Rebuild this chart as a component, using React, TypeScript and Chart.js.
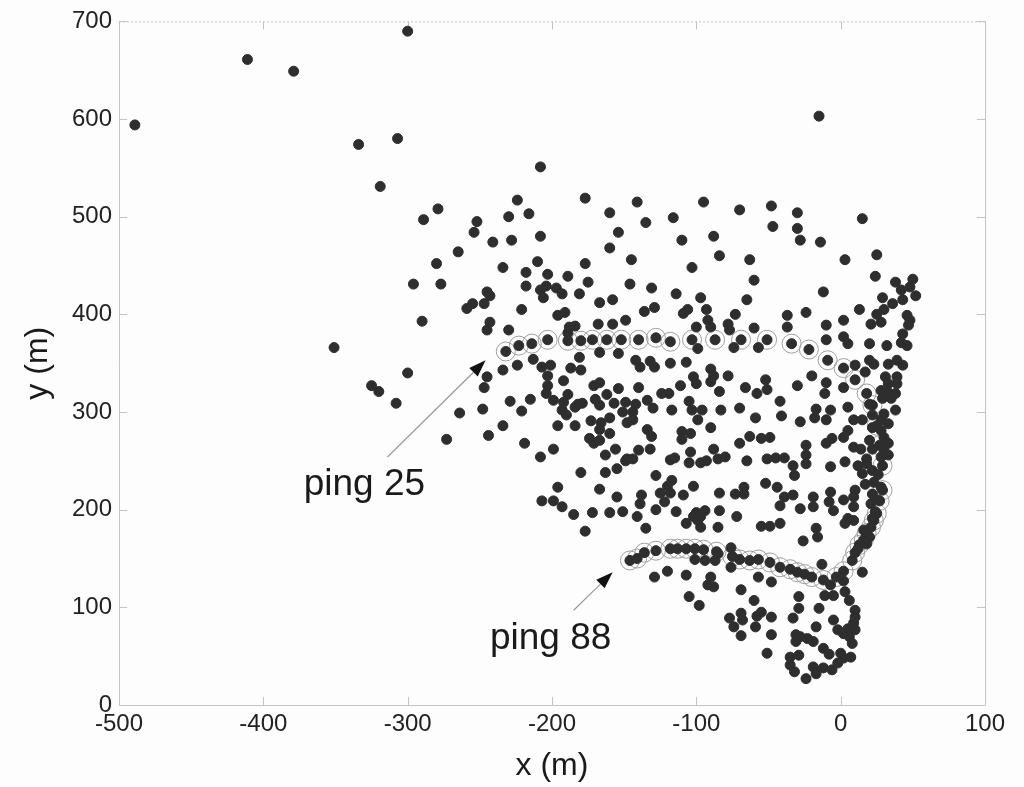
import React, { useEffect, useRef } from "react";
import { Chart, registerables } from "chart.js";

Chart.register(...registerables);

const xRange = [-500, 100];
const yRange = [0, 700];
const xLabel = "x (m)";
const yLabel = "y (m)";

// scattered target echoes [x, y] in metres
const echoes: [number, number][] = [
  // isolated points
  [-489, 594], [-411, 661], [-379, 649], [-300, 690], [-334, 574], [-307, 580], [-319, 531],
  [-289, 497], [-279, 508], [-265, 464], [-280, 452], [-296, 431], [-277, 431], [-290, 393],
  [-351, 366], [-300, 340], [-325, 327], [-320, 321], [-308, 309], [-273, 272], [-264, 299],
  [-15, 603],
  // left cluster
  [-189, 381], [-181, 356], [-167, 361], [-154, 360], [-234, 343], [-224, 348], [-213, 354],
  [-207, 346], [-201, 348], [-187, 345], [-180, 343], [-245, 336], [-247, 325], [-203, 337],
  [-192, 332], [-203, 327], [-171, 327], [-167, 330], [-154, 324], [-204, 319], [-189, 318],
  [-162, 318], [-199, 312], [-192, 310], [-182, 308], [-179, 309], [-170, 313], [-157, 309],
  [-149, 310], [-229, 311], [-215, 313], [-248, 303], [-221, 301], [-193, 302], [-190, 297],
  [-184, 305], [-167, 307], [-151, 300], [-160, 294], [-173, 291], [-166, 289], [-167, 282],
  [-196, 286], [-184, 286], [-234, 286], [-160, 278], [-174, 273], [-171, 268], [-167, 271],
  [-244, 276], [-219, 268], [-199, 262], [-208, 254], [-156, 262], [-163, 256], [-149, 250],
  [-180, 238], [-163, 238], [-155, 242], [-196, 223], [-167, 221], [-155, 213], [-207, 209],
  [-199, 209], [-193, 203], [-185, 195], [-172, 197], [-160, 197], [-151, 198],
  // upper left
  [-208, 551], [-224, 517], [-177, 519], [-141, 515], [-230, 500], [-216, 503], [-252, 495],
  [-254, 484], [-160, 504], [-154, 484], [-241, 474], [-228, 476], [-208, 480], [-160, 468],
  [-145, 456], [-210, 454], [-234, 448], [-218, 443], [-203, 441], [-189, 439], [-177, 452],
  [-175, 433], [-146, 431], [-218, 429], [-208, 425], [-204, 429], [-197, 427], [-193, 421],
  [-206, 417], [-245, 423], [-243, 419], [-255, 411], [-259, 406], [-247, 411], [-221, 405],
  [-181, 421], [-167, 412], [-158, 415], [-196, 399], [-191, 402], [-243, 392], [-245, 384],
  [-230, 384], [-168, 390], [-158, 390], [-149, 394], [-188, 387], [-184, 388],
  // upper middle
  [-95, 515], [-70, 507], [-48, 511], [-30, 504], [-135, 494], [-116, 499], [-47, 490],
  [-30, 488], [-28, 476], [-14, 474], [-110, 476], [-88, 480], [-84, 460], [-63, 456],
  [-103, 448], [-60, 435], [-131, 427], [-114, 421], [-97, 417], [-65, 415], [-12, 423],
  [-136, 403], [-129, 407], [-109, 401], [-106, 405], [-93, 405], [-92, 394], [-73, 400],
  [-37, 399], [-24, 402], [-100, 387], [-90, 387], [-78, 390], [-77, 384], [-60, 386],
  [-37, 387], [-10, 389],
  // upper right
  [15, 498], [3, 456], [25, 461], [24, 439], [38, 433], [50, 436], [42, 425], [48, 428],
  [52, 419], [43, 415], [29, 417], [36, 411], [13, 405], [30, 405], [25, 400], [2, 394],
  [21, 390], [28, 392], [46, 399], [48, 394], [47, 389], [43, 380], [2, 377],
  // centre
  [-99, 365], [-74, 366], [-57, 366], [-142, 353], [-139, 346], [-132, 352], [-129, 346],
  [-118, 350], [-107, 351], [-90, 344], [-88, 337], [-102, 336], [-78, 337], [-90, 331],
  [-100, 329], [-111, 327], [-140, 325], [-124, 319], [-119, 319], [-84, 321], [-66, 325],
  [-52, 333], [-51, 323], [-58, 319], [-30, 327], [-142, 308], [-144, 300], [-134, 312],
  [-130, 304], [-117, 302], [-105, 311], [-103, 302], [-96, 302], [-83, 302], [-70, 304],
  [-42, 311], [-41, 296], [-59, 294], [-99, 292], [-28, 290], [-144, 292], [-148, 289],
  [-134, 282], [-131, 275], [-110, 280], [-104, 278], [-110, 272], [-90, 284], [-70, 268],
  [-63, 275], [-55, 273], [-49, 274], [-24, 266], [-24, 256], [-24, 247], [-140, 261],
  [-132, 262], [-148, 252], [-144, 252], [-118, 251], [-115, 253], [-105, 248], [-97, 248],
  [-93, 250], [-104, 259], [-88, 262], [-85, 252], [-80, 254], [-65, 250], [-51, 252],
  [-45, 253], [-39, 253], [-33, 245], [-32, 235], [-128, 235], [-117, 230], [-120, 224],
  [-102, 224], [-67, 223], [-52, 227], [-44, 223], [-138, 215], [-125, 217], [-118, 217],
  [-109, 215], [-84, 217], [-73, 216], [-67, 216], [-39, 213], [-33, 215], [-139, 206],
  [-122, 208], [-128, 200], [-114, 198], [-100, 197], [-94, 199], [-84, 199], [-42, 204],
  [-28, 201], [-141, 193], [-72, 193], [-102, 193], [-97, 193],
  // right band
  [-10, 374], [5, 370], [20, 370], [32, 368], [42, 371], [46, 368], [20, 353], [23, 349],
  [33, 349], [39, 353], [43, 348], [10, 348], [17, 341], [-20, 337], [-10, 330], [-11, 319],
  [2, 325], [31, 336], [39, 336], [33, 329], [39, 329], [28, 322], [33, 320], [38, 319],
  [35, 314], [29, 314], [5, 305], [20, 308], [-17, 303], [-7, 302], [-18, 294], [-10, 292],
  [9, 292], [15, 292], [22, 297], [30, 298], [38, 302], [28, 292], [33, 288], [22, 284],
  [28, 281], [5, 281], [2, 274], [-6, 273], [-10, 268], [30, 274], [33, 268], [20, 271],
  [14, 262], [9, 264], [22, 262], [30, 261], [33, 256], [28, 254], [18, 252], [18, 247],
  [3, 249], [-7, 244], [12, 245], [15, 237], [26, 236], [22, 240], [23, 228], [17, 226],
  [28, 223], [10, 220], [-7, 218], [-19, 213], [-8, 208], [2, 210], [9, 213], [22, 216],
  [26, 210], [21, 206], [-19, 203], [-5, 199], [9, 203], [24, 198], [5, 191], [22, 191],
  // lower middle
  [-107, 186], [-99, 189], [-97, 182], [-177, 178], [-135, 181], [-101, 149], [-94, 148],
  [-129, 131], [-120, 137], [-107, 133], [-105, 111], [-98, 102], [-92, 123],
  // lower right
  [-55, 183], [-49, 183], [-42, 186], [-17, 181], [-16, 172], [-26, 168], [3, 186], [9, 189],
  [16, 179], [20, 172], [18, 165], [12, 160], [15, 136], [-85, 182], [-85, 155], [-87, 148],
  [-76, 161], [-76, 141], [-57, 131], [-48, 126], [-90, 131], [-88, 121], [-69, 118],
  [-60, 107], [-77, 89], [-69, 94], [-68, 87], [-74, 80], [-58, 91], [-55, 95], [-59, 80],
  [-48, 90], [-69, 71], [-48, 72], [-51, 53], [-33, 89], [-29, 111], [-29, 99], [-15, 99],
  [-17, 80], [-31, 72], [-28, 70], [-23, 68], [-19, 65], [-31, 65], [-12, 58], [-8, 52],
  [-35, 49], [-29, 51], [-35, 41], [-32, 34], [-24, 27], [-19, 39], [-17, 32], [-12, 38],
  [-6, 36], [-2, 43], [2, 48], [7, 49], [0, 53], [8, 63], [-5, 87], [-2, 77], [2, 73],
  [5, 78], [9, 84], [6, 70], [10, 77], [10, 90], [10, 97], [-11, 112], [-5, 112], [3, 116],
  [6, 107], [2, 127], [-7, 123], [-13, 144],
];

// echoes of ping 25 (circled)
const ping25: [number, number][] = [
  [-232, 362], [-223, 368], [-214, 370], [-203, 374], [-189, 373], [-180, 373], [-172, 374],
  [-162, 374], [-152, 374], [-140, 374], [-128, 376], [-118, 372], [-103, 374], [-87, 374],
  [-69, 374], [-51, 374], [-34, 370], [-22, 364], [-9, 353], [2, 345], [10, 333], [18, 319],
  [22, 307], [25, 286], [27, 266], [29, 245],
];

// echoes of ping 88 (circled)
const ping88: [number, number][] = [
  [-146, 148], [-141, 150], [-136, 156], [-128, 158], [-118, 160], [-113, 160], [-107, 160],
  [-101, 160], [-95, 159], [-86, 157], [-75, 152], [-70, 149], [-63, 148], [-57, 149],
  [-49, 146], [-42, 141], [-35, 139], [-30, 136], [-25, 134], [-20, 131], [-12, 128],
  [-3, 131], [2, 137], [8, 148], [10, 156], [13, 164], [16, 169], [18, 176], [21, 182],
  [23, 189], [25, 196], [27, 209], [29, 220],
];

// annotations: label text, label anchor, arrow tail, arrow tip (data units)
const annotationText = ["ping 25", "ping 88"];
const annotationLabelAt: [number, number][] = [[-372, 215], [-243, 57]];
const arrowTail: [number, number][] = [[-314, 254], [-185, 97]];
const arrowTip: [number, number][] = [[-246, 353], [-158, 136]];

const FONT = '"Liberation Sans", Arial, Helvetica, sans-serif';
const DOT = "#2e2e2e";
const FRAME = "#c4c4c4";

const toPts = (arr: [number, number][]) => arr.map(([x, y]) => ({ x, y }));

const decorPlugin = {
  id: "decor",
  beforeDraw(chart: any) {
    const { ctx, width, height } = chart;
    ctx.save();
    ctx.fillStyle = "#fdfdfd";
    ctx.fillRect(0, 0, width, height);
    ctx.restore();
  },
  beforeDatasetsDraw(chart: any) {
    const { ctx, chartArea: a, scales } = chart;
    const xs = scales.x;
    const ys = scales.y;
    ctx.save();
    ctx.strokeStyle = FRAME;
    ctx.lineWidth = 1;
    ctx.beginPath();
    ctx.moveTo(a.left + 0.5, a.top);
    ctx.lineTo(a.left + 0.5, a.bottom + 0.5);
    ctx.lineTo(a.right + 0.5, a.bottom + 0.5);
    ctx.lineTo(a.right + 0.5, a.top);
    ctx.stroke();
    ctx.setLineDash([2, 2]);
    ctx.beginPath();
    ctx.moveTo(a.left, a.top + 0.5);
    ctx.lineTo(a.right, a.top + 0.5);
    ctx.stroke();
    ctx.setLineDash([]);
    const tl = 8;
    ctx.beginPath();
    for (const t of xs.ticks) {
      const p = Math.round(xs.getPixelForValue(t.value)) + 0.5;
      ctx.moveTo(p, a.bottom);
      ctx.lineTo(p, a.bottom - tl);
      ctx.moveTo(p, a.top);
      ctx.lineTo(p, a.top + tl);
    }
    for (const t of ys.ticks) {
      const p = Math.round(ys.getPixelForValue(t.value)) + 0.5;
      ctx.moveTo(a.left, p);
      ctx.lineTo(a.left + tl, p);
      ctx.moveTo(a.right, p);
      ctx.lineTo(a.right - tl, p);
    }
    ctx.stroke();
    ctx.restore();
  },
  afterDraw(chart: any) {
    const { ctx, scales } = chart;
    const xs = scales.x;
    const ys = scales.y;
    ctx.save();
    for (let i = 0; i < annotationText.length; i++) {
      const tx = xs.getPixelForValue(arrowTail[i][0]);
      const ty = ys.getPixelForValue(arrowTail[i][1]);
      const hx = xs.getPixelForValue(arrowTip[i][0]);
      const hy = ys.getPixelForValue(arrowTip[i][1]);
      const ang = Math.atan2(hy - ty, hx - tx);
      const len = 17;
      const half = 6;
      const bx = hx - len * Math.cos(ang);
      const by = hy - len * Math.sin(ang);
      ctx.strokeStyle = "#9a9a9a";
      ctx.lineWidth = 1.2;
      ctx.beginPath();
      ctx.moveTo(tx, ty);
      ctx.lineTo(bx, by);
      ctx.stroke();
      ctx.fillStyle = "#111";
      ctx.beginPath();
      ctx.moveTo(hx, hy);
      ctx.lineTo(bx - half * Math.sin(ang), by + half * Math.cos(ang));
      ctx.lineTo(bx + half * Math.sin(ang), by - half * Math.cos(ang));
      ctx.closePath();
      ctx.fill();
      ctx.font = `37px ${FONT}`;
      ctx.fillStyle = "#1a1a1a";
      ctx.textAlign = "left";
      ctx.textBaseline = "alphabetic";
      ctx.fillText(
        annotationText[i],
        xs.getPixelForValue(annotationLabelAt[i][0]),
        ys.getPixelForValue(annotationLabelAt[i][1])
      );
    }
    ctx.restore();
  },
};

export default function App() {
  const ref = useRef<HTMLCanvasElement | null>(null);
  useEffect(() => {
    if (!ref.current) return;
    const dotStyle = {
      pointRadius: 5,
      pointBorderWidth: 1,
      pointBackgroundColor: DOT,
      pointBorderColor: DOT,
      showLine: false,
    };
    const ringStyle = {
      pointRadius: 9.5,
      pointBorderWidth: 1,
      pointBackgroundColor: "rgba(0,0,0,0)",
      pointBorderColor: "#a0a0a0",
      showLine: false,
    };
    const chart = new Chart(ref.current, {
      type: "scatter",
      data: {
        datasets: [
          { label: "echoes", data: toPts(echoes), ...dotStyle },
          { label: "ping 25", data: toPts(ping25), ...dotStyle },
          { label: "ping 88", data: toPts(ping88), ...dotStyle },
          { label: "ping 25 ring", data: toPts(ping25), ...ringStyle },
          { label: "ping 88 ring", data: toPts(ping88), ...ringStyle },
        ],
      },
      options: {
        responsive: false,
        animation: false,
        layout: { padding: { left: 0, top: 20, right: 39, bottom: 0 } },
        plugins: { legend: { display: false }, tooltip: { enabled: false } },
        scales: {
          x: {
            type: "linear",
            min: xRange[0],
            max: xRange[1],
            ticks: { stepSize: 100, padding: 5, color: "#222", font: { family: FONT, size: 24 } },
            grid: { display: false, drawTicks: false },
            border: { display: false },
            title: {
              display: true,
              text: xLabel,
              color: "#1a1a1a",
              font: { family: FONT, size: 32 },
              padding: { top: 0, bottom: 2 },
            },
            afterFit: (s: any) => {
              s.height = 82;
            },
          },
          y: {
            type: "linear",
            min: yRange[0],
            max: yRange[1],
            ticks: { stepSize: 100, padding: 7, color: "#222", font: { family: FONT, size: 24 } },
            grid: { display: false, drawTicks: false },
            border: { display: false },
            title: {
              display: true,
              text: yLabel,
              color: "#1a1a1a",
              font: { family: FONT, size: 32 },
              padding: { top: 19, bottom: 0 },
            },
            afterFit: (s: any) => {
              s.width = 119;
            },
          },
        },
      },
      plugins: [decorPlugin],
    });
    return () => chart.destroy();
  }, []);
  return (
    <div style={{ position: "fixed", left: 0, top: 0, width: 1024, height: 787 }}>
      <canvas ref={ref} width={1024} height={787} style={{ display: "block" }} />
    </div>
  );
}
